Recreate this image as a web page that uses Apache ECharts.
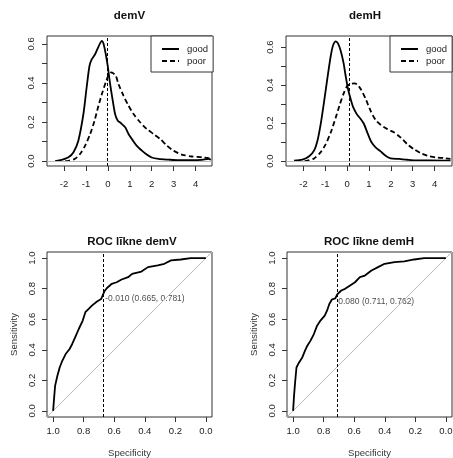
<!DOCTYPE html>
<html><head><meta charset="utf-8">
<script src="https://cdn.jsdelivr.net/npm/echarts@6/dist/echarts.min.js"></script>
<style>html,body{margin:0;padding:0;background:#fff}#c{width:453px;height:458px}</style>
</head><body><div id="c"></div>
<script>
// ---- data ----
const demV_good_x = [-2.41,-2.11,-1.80,-1.57,-1.35,-1.12,-0.97,-0.84,-0.74,-0.58,-0.48,-0.36,-0.28,-0.20,-0.10,-0.01,0.10,0.22,0.33,0.45,0.60,0.79,0.94,1.12,1.32,1.55,1.77,2.00,2.31,2.76,3.22,3.83,4.29,4.59,4.70];
const demV_good_y = [0.000,0.007,0.020,0.046,0.105,0.240,0.378,0.488,0.520,0.548,0.573,0.602,0.615,0.600,0.548,0.488,0.395,0.310,0.240,0.207,0.194,0.173,0.139,0.109,0.078,0.054,0.034,0.019,0.012,0.008,0.005,0.005,0.007,0.012,0.007];
const demV_poor_x = [-1.95,-1.80,-1.50,-1.27,-1.04,-0.81,-0.61,-0.43,-0.25,-0.10,0.02,0.15,0.25,0.36,0.48,0.71,0.94,1.17,1.47,1.77,2.08,2.38,2.69,2.99,3.37,3.83,4.29,4.59,4.70];
const demV_poor_y = [0.000,0.002,0.012,0.037,0.080,0.139,0.207,0.284,0.352,0.403,0.437,0.454,0.449,0.437,0.395,0.335,0.284,0.241,0.199,0.165,0.139,0.114,0.080,0.054,0.034,0.024,0.020,0.015,0.010];
const demH_good_x = [-2.43,-2.05,-1.74,-1.51,-1.36,-1.21,-1.06,-0.90,-0.75,-0.65,-0.52,-0.42,-0.30,-0.17,-0.07,0.04,0.16,0.28,0.44,0.62,0.77,0.92,1.11,1.30,1.53,1.76,1.99,2.37,2.75,3.21,3.81,4.73];
const demH_good_y = [0.002,0.007,0.025,0.056,0.107,0.196,0.310,0.440,0.554,0.607,0.630,0.619,0.582,0.519,0.449,0.379,0.326,0.282,0.247,0.221,0.195,0.151,0.100,0.072,0.051,0.028,0.014,0.011,0.007,0.004,0.004,0.002];
const demH_poor_x = [-1.95,-1.82,-1.51,-1.21,-0.98,-0.75,-0.52,-0.33,-0.14,0.01,0.16,0.34,0.47,0.62,0.85,1.07,1.30,1.53,1.84,2.14,2.44,2.75,3.05,3.36,3.66,4.04,4.42,4.73];
const demH_poor_y = [0.000,0.002,0.014,0.047,0.089,0.151,0.230,0.300,0.361,0.396,0.405,0.409,0.402,0.379,0.326,0.265,0.216,0.191,0.168,0.151,0.125,0.089,0.063,0.042,0.028,0.019,0.016,0.011];

const rocV_spec = [1.0,0.994,0.987,0.972,0.957,0.94,0.918,0.892,0.875,0.853,0.832,0.806,0.789,0.772,0.746,0.713,0.685,0.665,0.649,0.616,0.584,0.552,0.509,0.483,0.422,0.379,0.315,0.272,0.228,0.164,0.099,0.0];
const rocV_sens = [0,0.077,0.164,0.23,0.284,0.328,0.372,0.405,0.438,0.488,0.536,0.591,0.646,0.663,0.689,0.716,0.733,0.781,0.803,0.832,0.842,0.86,0.875,0.897,0.912,0.941,0.952,0.963,0.985,0.991,1.0,1.0];
const rocH_spec = [1.0,0.994,0.987,0.978,0.961,0.94,0.922,0.907,0.886,0.864,0.843,0.821,0.793,0.778,0.763,0.746,0.724,0.711,0.685,0.66,0.627,0.595,0.563,0.53,0.487,0.444,0.401,0.336,0.272,0.207,0.142,0.0];
const rocH_sens = [0,0.098,0.186,0.284,0.317,0.35,0.394,0.427,0.46,0.503,0.558,0.591,0.624,0.656,0.70,0.729,0.737,0.762,0.788,0.799,0.821,0.842,0.875,0.886,0.919,0.941,0.963,0.974,0.978,0.991,1.0,1.0];

const cutoffs = [-0.010, 0.080];            // density cutoff lines (demV, demH)
const thrPoints = [[0.665, 0.781], [0.711, 0.762]];
const thrLabels = ['-0.010 (0.665, 0.781)', '0.080 (0.711, 0.762)'];
const diagLine = [[1.04, -0.04], [-0.04, 1.04]];

const densXTicks = [-2, -1, 0, 1, 2, 3, 4];
const densYTicks = [0, 0.1, 0.2, 0.3, 0.4, 0.5, 0.6];
const densYLabels = [0, 0.2, 0.4, 0.6];
const rocTicks = [0, 0.2, 0.4, 0.6, 0.8, 1.0];

const titles = ['demV', 'demH', 'ROC līkne demV', 'ROC līkne demH'];
const legendNames = ['good', 'poor'];

// ---- chart ----
const FONT = '"Liberation Sans", Arial, Helvetica, sans-serif';
const zip = (a, b) => a.map((v, i) => [v, b[i]]);
const frame = '#333';

function grid(left, top, w, h) {
  return {left, top, width: w, height: h, show: true, borderColor: frame, borderWidth: 1,
          backgroundColor: 'transparent', outerBoundsMode: 'none', containLabel: false};
}
function axisBase(gi, min, max, ticks, labels, fmt, margin, extra) {
  return Object.assign({
    type: 'value', gridIndex: gi, min, max, scale: true,
    axisLine: {show: false, onZero: false},
    axisTick: {show: true, inside: false, length: 5, customValues: ticks, lineStyle: {color: frame, width: 1}},
    axisLabel: {customValues: labels, formatter: fmt, margin, fontSize: 9.5, color: '#222', fontFamily: FONT},
    splitLine: {show: false}
  }, extra || {});
}
const intFmt = v => String(Math.round(v));
const f1 = v => v.toFixed(1);
const nameStyle = {fontSize: 9.5, color: '#333', fontFamily: FONT};

const xAxis = [
  axisBase(0, -2.78, 4.75, densXTicks, densXTicks, intFmt, 13, {position: 'bottom'}),
  axisBase(1, -2.80, 4.80, densXTicks, densXTicks, intFmt, 13, {position: 'bottom'}),
  axisBase(2, -0.04, 1.04, rocTicks, rocTicks, f1, 9, {position: 'bottom', inverse: true, name: 'Specificity', nameLocation: 'middle', nameGap: 31, nameTextStyle: nameStyle}),
  axisBase(3, -0.04, 1.04, rocTicks, rocTicks, f1, 9, {position: 'bottom', inverse: true, name: 'Specificity', nameLocation: 'middle', nameGap: 31, nameTextStyle: nameStyle})
];
function yAx(gi, min, max, ticks, labels, margin, extra) {
  const a = axisBase(gi, min, max, ticks, labels, f1, margin, Object.assign({position: 'left'}, extra || {}));
  a.axisLabel.rotate = 90;
  return a;
}
const yAxis = [
  yAx(0, -0.0246, 0.640, densYTicks, densYLabels, 11),
  yAx(1, -0.026, 0.658, densYTicks, densYLabels, 11),
  yAx(2, -0.04, 1.04, rocTicks, rocTicks, 10, {name: 'Sensitivity', nameLocation: 'middle', nameGap: 28, nameTextStyle: nameStyle}),
  yAx(3, -0.04, 1.04, rocTicks, rocTicks, 10, {name: 'Sensitivity', nameLocation: 'middle', nameGap: 28, nameTextStyle: nameStyle})
];

function densSeries(gi, name, x, y, dashed, cut) {
  const s = {
    type: 'line', name, xAxisIndex: gi, yAxisIndex: gi, data: zip(x, y),
    symbol: 'none', smooth: 0.25, animation: false, silent: true,
    lineStyle: {color: '#000', width: 1.8, type: dashed ? [5, 3] : 'solid'},
    itemStyle: {color: '#000'}
  };
  if (cut !== undefined) {
    s.markLine = {silent: true, symbol: ['none', 'none'], label: {show: false}, animation: false,
      data: [
        {yAxis: 0, lineStyle: {color: '#bbb', width: 1, type: 'solid'}},
        {xAxis: cut, lineStyle: {color: '#000', width: 1, type: [3, 2]}}
      ]};
  }
  return s;
}
function rocSeries(gi, spec, sens, thr, lab) {
  return [
    {type: 'line', name: 'diag' + gi, xAxisIndex: gi, yAxisIndex: gi, data: diagLine, symbol: 'none',
     animation: false, silent: true, lineStyle: {color: '#bbb', width: 1}},
    {type: 'line', name: 'roc' + gi, xAxisIndex: gi, yAxisIndex: gi, data: zip(spec, sens), symbol: 'none',
     animation: false, silent: true, lineStyle: {color: '#000', width: 1.8},
     markLine: {silent: true, symbol: ['none', 'none'], label: {show: false}, animation: false,
       data: [{xAxis: thr[0], lineStyle: {color: '#000', width: 1, type: [3, 2]}}]}},
    {type: 'scatter', name: 'thr' + gi, xAxisIndex: gi, yAxisIndex: gi, data: [thr], symbolSize: 0,
     animation: false, silent: true,
     label: {show: true, position: 'right', distance: 1, offset: [0, 7], formatter: lab,
       fontSize: 8.5, color: '#222', fontFamily: FONT}}
  ];
}

const legendBase = {
  orient: 'vertical', top: 36, data: legendNames, itemWidth: 17, itemHeight: 8, itemGap: 2,
  padding: [8, 5, 6, 10], borderColor: frame, borderWidth: 1, borderRadius: 0, backgroundColor: '#fff',
  itemStyle: {opacity: 0, color: 'transparent', borderWidth: 0},
  textStyle: {fontSize: 9.5, color: '#222', fontFamily: FONT, padding: [0, 0, 0, 3]},
  selectedMode: false
};

const titleStyle = {fontSize: 11.5, fontWeight: 'bold', color: '#111', fontFamily: FONT};
const option = {
  backgroundColor: '#fff',
  animation: false,
  textStyle: {fontFamily: FONT},
  title: [
    {text: titles[0], left: 129.5, top: 10, textAlign: 'center', padding: 0, textStyle: titleStyle},
    {text: titles[1], left: 365, top: 10, textAlign: 'center', padding: 0, textStyle: titleStyle},
    {text: titles[2], left: 132, top: 235.5, textAlign: 'center', padding: 0, textStyle: titleStyle},
    {text: titles[3], left: 369, top: 235.5, textAlign: 'center', padding: 0, textStyle: titleStyle}
  ],
  legend: [
    Object.assign({}, legendBase, {left: 151}),
    Object.assign({}, legendBase, {left: 390})
  ],
  grid: [grid(47, 36, 165, 130), grid(286, 36, 166, 130), grid(47, 252, 165, 165), grid(287, 252, 165, 165)],
  xAxis, yAxis,
  series: [
    densSeries(0, legendNames[0], demV_good_x, demV_good_y, false, cutoffs[0]),
    densSeries(0, legendNames[1], demV_poor_x, demV_poor_y, true),
    densSeries(1, legendNames[0], demH_good_x, demH_good_y, false, cutoffs[1]),
    densSeries(1, legendNames[1], demH_poor_x, demH_poor_y, true),
    ...rocSeries(2, rocV_spec, rocV_sens, thrPoints[0], thrLabels[0]),
    ...rocSeries(3, rocH_spec, rocH_sens, thrPoints[1], thrLabels[1])
  ]
};
const chart = echarts.init(document.getElementById('c'));
chart.setOption(option);
</script>
</body></html>
